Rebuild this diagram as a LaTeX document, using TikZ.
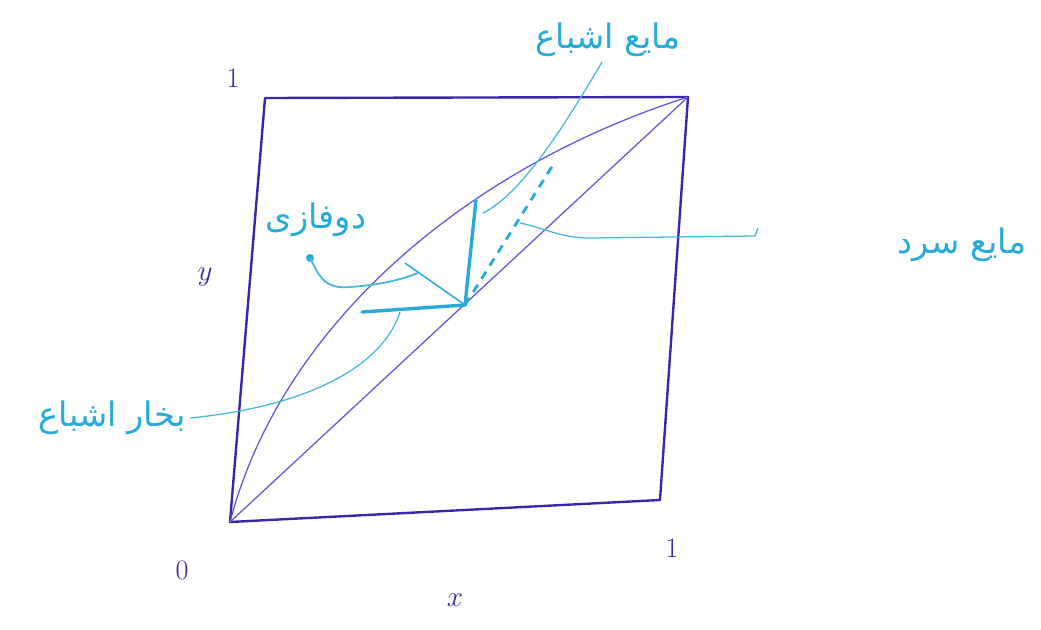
\documentclass[tikz,border=0pt]{standalone}
\usepackage{fontspec}
\newfontfamily\farsifont[Script=Arabic]{DejaVu Sans}
\TeXXeTstate=1
\usetikzlibrary{positioning}
\definecolor{inkblue}{RGB}{55,40,170}
\definecolor{penblue}{RGB}{100,85,215}
\definecolor{cyanink}{RGB}{40,170,215}

\begin{document}
\begin{tikzpicture}[
        x=0.025cm, y=-0.025cm,
        frame/.style={draw=inkblue, line width=1.7pt, line join=round},
        thinink/.style={draw=penblue, line width=0.9pt},
        qline/.style={draw=cyanink, line width=2.4pt, line cap=round},
        leader/.style={draw=cyanink!85, line width=0.9pt},
        farsi/.style={text=cyanink, font=\farsifont\fontsize{24}{28}\selectfont},
        axislabel/.style={text=inkblue, font=\fontsize{20}{22}\selectfont},
    ]
        \useasboundingbox (0,0) rectangle (1041,630);

        % corners of the x-y square
        \coordinate (O) at (230,522);
        \coordinate (TL) at (265,98);
        \coordinate (TR) at (688,97);
        \coordinate (BR) at (660,500);

        % feed point on the diagonal and the q-line ends
        \coordinate (F) at (465,305);
        \coordinate (V) at (476,200);
        \coordinate (H) at (362,312);
        \coordinate (T) at (405,263);
        \coordinate (D) at (553,165);

        \node[axislabel] (ytop) at (233,78) {1};
        \node[axislabel] (ylab) at (205,277) {$y$};
        \node[axislabel] (zero) at (182,570) {0};
        \node[axislabel] (xright) at (672,548) {1};
        \node[axislabel] (xlab) at (455,600) {$x$};

        \node[farsi] (satliq) at (608,40) {\beginR مایع اشباع\endR};
        \node[farsi] (twophase) at (316,220) {\beginR دوفازی\endR};
        \node[farsi] (satvap) at (112,418) {\beginR بخار اشباع\endR};
        \node[farsi] (coldliq) at (962,245) {\beginR مایع سرد\endR};

        \draw[frame] (O) -- (TL) -- (TR) -- (BR) -- cycle;
        \draw[thinink] (O) -- (TR);
        \draw[thinink] (O) .. controls (280,330) and (460,170) .. (TR);

        \draw[qline] (F) -- (V);
        \draw[qline] (F) -- (H);
        \draw[draw=cyanink, line width=1.1pt] (F) -- (T);
        \draw[draw=cyanink, line width=2pt, dash pattern=on 6pt off 5pt] (F) -- (D);

        % leaders to the labels
        \coordinate (satliqpt) at (483,213);
        \coordinate (tptail) at (310,258);
        \coordinate (tppt) at (418,273);
        \coordinate (hpt) at (400,312);
        \coordinate (dpt) at (520,223);
        \coordinate (coldtail) at (755,236);
        \draw[leader] (satliqpt) .. controls (520,195) and (562,130) .. (satliq.255);
        \fill[cyanink] (tptail) circle (4);
        \draw[leader, line width=1.3pt] (tptail) .. controls (318,272) and (322,290) .. (350,287)
            .. controls (380,285) and (400,280) .. (tppt);
        \draw[leader] (satvap.east) .. controls (320,405) and (385,360) .. (hpt);
        \draw[leader] (dpt) .. controls (545,228) and (560,238) .. (590,238) -- (coldtail) -- ++(3,-8);
    \end{tikzpicture}
\end{document}
